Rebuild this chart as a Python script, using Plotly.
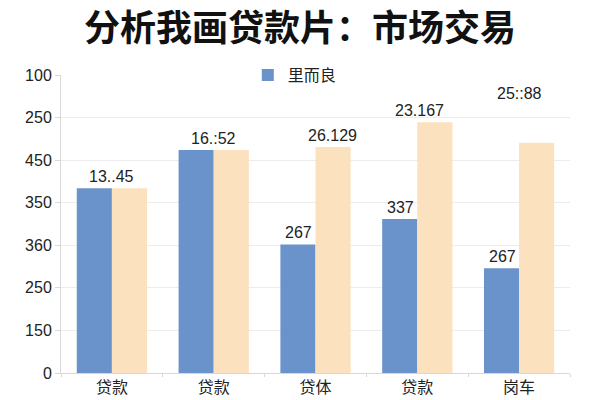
import plotly.graph_objects as go

# values (bar heights on a 0-700 scale)
groups = ["g1", "g2", "g3", "g4", "g5"]
group_names = ["贷款", "贷款", "贷体", "贷款", "岗车"]
blue_values = [434, 524, 302, 362, 246]
peach_values = [434, 524, 531, 589, 541]
blue_labels = ["13..45", "16.:52", "267", "337", "267"]
peach_labels = ["", "", "26.129", "23.167", "25::88"]
y_ticks = [0, 100, 200, 300, 400, 500, 600, 700]
y_tick_text = ["0", "150", "250", "360", "350", "450", "250", "100"]

BLUE = "#6b93cb"
PEACH = "#fbe1bd"
FONT = "Liberation Sans, Noto Sans CJK SC, sans-serif"
CJK = "Noto Sans CJK SC, sans-serif"

fig = go.Figure()
fig.add_bar(x=groups, y=blue_values, name="里而良", marker=dict(color=BLUE, line=dict(width=0)))
fig.add_bar(x=groups, y=peach_values, name="", showlegend=False,
            marker=dict(color=PEACH, line=dict(width=0)))

# value labels: centred over the pair when both bars are equal
peach_dx = {2: 17, 3: 2, 4: 0}
for i, g in enumerate(groups):
    same = blue_values[i] == peach_values[i]
    fig.add_annotation(x=g, y=blue_values[i], text=blue_labels[i], showarrow=False,
                       xshift=0 if same else -17, yanchor="bottom", yshift=1,
                       font=dict(size=16, color="#222"))
    if peach_labels[i]:
        extra = 38 if i == 4 else 0
        fig.add_annotation(x=g, y=peach_values[i], text=peach_labels[i], showarrow=False,
                           xshift=peach_dx.get(i, 0), yanchor="bottom", yshift=1 + extra,
                           font=dict(size=16, color="#222"))

fig.update_layout(
    width=600, height=400,
    margin=dict(l=61, r=30, t=75, b=27),
    paper_bgcolor="white", plot_bgcolor="white",
    font=dict(family=FONT, color="#222"),
    title=dict(text="<b>分析我画贷款片：市场交易</b>", x=0.5, xanchor="center",
               y=0.928, yanchor="middle",
               font=dict(family=CJK, size=36, color="#111")),
    barmode="group", bargap=0.31, bargroupgap=0,
    legend=dict(orientation="h", x=0.367, xanchor="left", y=1.0, yanchor="middle",
                bgcolor="white", font=dict(size=16, family=CJK),
                itemwidth=30),
)
fig.update_xaxes(tickvals=groups, ticktext=group_names, tickson="boundaries",
                 ticks="outside", ticklen=3, tickcolor="#d8d8d8",
                 showline=True, linecolor="#d8d8d8", showgrid=False, automargin=False,
                 tickfont=dict(size=16, family=CJK))
fig.update_yaxes(range=[0, 700], tickvals=y_ticks, ticktext=y_tick_text,
                 ticks="outside", ticklen=5, tickcolor="#d8d8d8",
                 showline=True, linecolor="#d8d8d8", gridcolor="#ececec",
                 zeroline=False, automargin=False, tickfont=dict(size=16))

fig.write_html("out.html", config={"displayModeBar": False},
               post_script="document.body.style.margin='0';")
